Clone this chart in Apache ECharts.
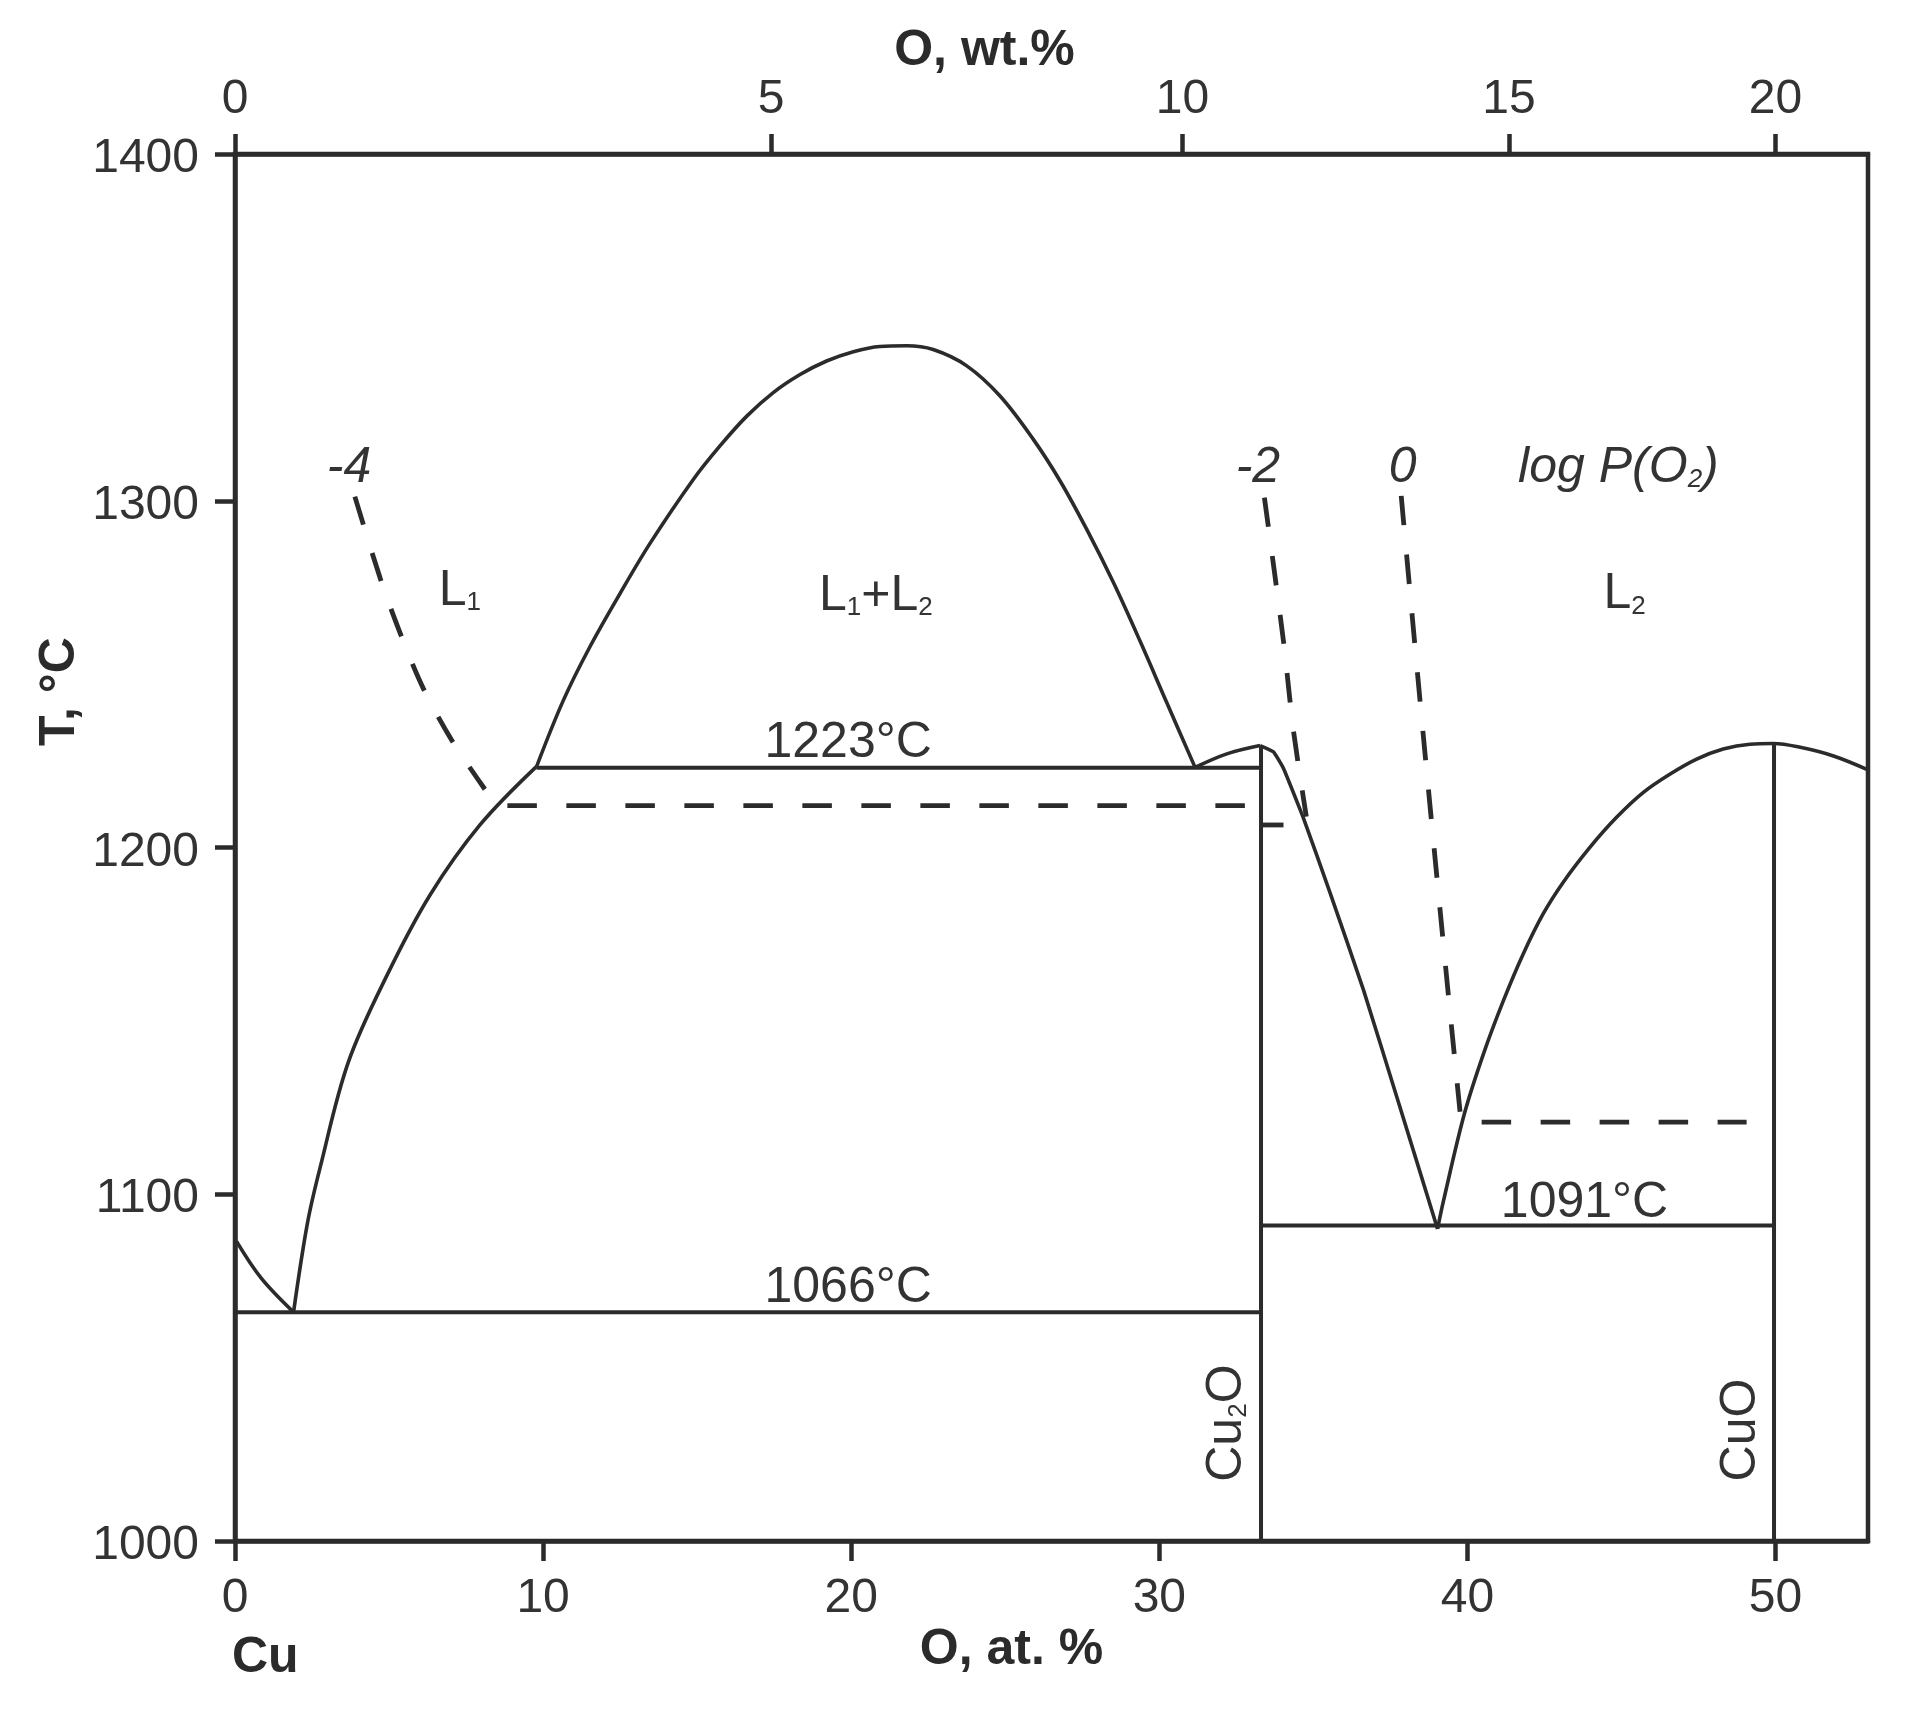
<!DOCTYPE html>
<html><head><meta charset="utf-8">
<style>html,body{margin:0;padding:0;background:#fff}#c{width:1917px;height:1715px}</style>
<script src="https://cdn.jsdelivr.net/npm/echarts@6/dist/echarts.min.js"></script>
</head><body><div id="c"></div>
<script>
const bottomTicks=[0,10,20,30,40,50];
const topTickPositions=[0,17.4,30.75,41.35,50];
const topTickLabels=['0','5','10','15','20'];
const eutecticLeft=[[0.05,1086.4],[0.85,1075.8],[1.9,1066]];
const liquidusL1=[[1.9,1066],[2.35,1091.6],[2.76,1107.6],[3.67,1137.9],[4.92,1162.9],[6.33,1186.3],[7.95,1206.5],[9.79,1223.4]];
const miscibilityDome=[[9.79,1223.4],[10.66,1242.5],[11.52,1257.9],[12.5,1273.3],[13.47,1287.7],[14.88,1306.2],[15.74,1315.8],[16.61,1324.4],[17.47,1331.2],[18.34,1336.4],[19.2,1340.3],[20.07,1343],[20.93,1344.5],[21.8,1344.7],[22.66,1343.6],[23.75,1338.9],[24.83,1330.2],[25.91,1317.7],[26.78,1305.7],[27.64,1291.8],[28.51,1276.4],[29.37,1259.6],[30.24,1241.8],[31.16,1223.1]];
const cu2oBump=[[31.16,1223.1],[32.19,1227],[33.27,1229.4]];
const cu2oFall=[[33.27,1229.4],[33.7,1227.6],[34.03,1222.8],[34.68,1208.4],[35.55,1186.7],[36.63,1158.8],[37.71,1128],[39.03,1090]];
const cuoRise=[[39.03,1090],[39.22,1098],[39.9,1123.2],[40.52,1140.5],[41.17,1155.9],[41.81,1169.3],[42.46,1180.9],[43.11,1190],[43.98,1200.1],[44.84,1208.7],[45.71,1215.9],[46.58,1221.2],[47.44,1225.5],[48.3,1228.4],[49.17,1229.8],[49.93,1230],[50.8,1228.9],[51.88,1226.4],[53,1222.4]];
const line1223=[[9.79,1223],[33.3,1223]];
const line1066=[[0,1066],[33.3,1066]];
const line1091=[[33.3,1091],[49.95,1091]];
const cu2oVertical=[[33.3,1000],[33.3,1229]];
const cuoVertical=[[49.95,1000],[49.95,1230]];
const dashMinus4=[[3.89,1301.2],[4.71,1277.7],[5.36,1261.8],[6.11,1245.9],[7.03,1231],[8.11,1216.8]];
const dashMinus2=[[33.41,1300.9],[34.03,1259.4],[34.35,1233.9],[34.77,1208.9]];
const dashZero=[[37.85,1301.4],[38.55,1233.9],[39.38,1157.5],[39.76,1123.8]];
const dash1212=[[8.84,1212.1],[32.78,1212.1]];
const dash1206=[[33.3,1206.5],[34.03,1206.5]];
const dash1121=[[40.46,1120.8],[49.06,1120.8]];
const labels=[
 {name:'-4',x:3.7,t:1309.5,text:'-4',italic:true},
 {name:'-2',x:33.2,t:1309.5,text:'-2',italic:true},
 {name:'0',x:37.9,t:1309.5,text:'0',italic:true},
 {name:'log',x:44.9,t:1309.5,text:'log P(O{isub|2})',italic:true},
 {name:'L1',x:7.3,t:1274,text:'L{sub|1}'},
 {name:'L1L2',x:20.8,t:1272.5,text:'L{sub|1}+L{sub|2}'},
 {name:'L2',x:45.1,t:1273,text:'L{sub|2}'},
 {name:'1223',x:19.9,t:1230,text:'1223°C'},
 {name:'1066',x:19.9,t:1073,text:'1066°C'},
 {name:'1091',x:43.8,t:1097.5,text:'1091°C'},
 {name:'Cu2O',x:32.2,t:1034,text:'Cu{sub|2}O',rotate:90},
 {name:'CuO',x:48.9,t:1032,text:'CuO',rotate:90}
];
const ink='#2b2b2b', font='"Liberation Sans",Arial,sans-serif';
const solid=(d,w=3.6,smooth=0.35)=>({type:'line',data:d,xAxisIndex:0,yAxisIndex:0,showSymbol:false,symbol:'none',smooth,silent:true,clip:false,lineStyle:{color:ink,width:w}});
const dashed=(d,smooth=0.3)=>({type:'line',data:d,xAxisIndex:0,yAxisIndex:0,showSymbol:false,symbol:'none',smooth,silent:true,clip:false,lineStyle:{color:ink,width:4.8,type:[29.5,29.5]}});
const chart=echarts.init(document.getElementById('c'),null,{renderer:'canvas'});
const axisLine={show:true,onZero:false,lineStyle:{color:ink,width:4.5}};
const tick=(vals)=>({show:true,length:20,lineStyle:{color:ink,width:4.5},...(vals?{customValues:vals}:{})});
chart.setOption({
 animation:false,backgroundColor:'#fff',
 textStyle:{fontFamily:font},
 grid:{left:235,top:154,width:1633,height:1387,show:true,borderColor:ink,borderWidth:4.5,backgroundColor:'transparent',containLabel:false},
 xAxis:[
  {type:'value',position:'bottom',min:0,max:53,splitLine:{show:false},axisLine,axisTick:tick(bottomTicks),
   axisLabel:{customValues:bottomTicks,color:'#333',fontSize:48,margin:34,fontFamily:font},
   name:'O, at. %',nameLocation:'middle',nameGap:84,nameMoveOverlap:false,nameTextStyle:{color:ink,fontSize:50,fontWeight:'bold',fontFamily:font,padding:[0,80,0,0]}},
  {type:'value',position:'top',min:0,max:53,splitLine:{show:false},axisLine,axisTick:tick(topTickPositions),
   axisLabel:{customValues:topTickPositions,color:'#333',fontSize:48,margin:30,fontFamily:font,
     formatter:v=>topTickLabels[topTickPositions.indexOf(v)]},
   name:'O, wt.%',nameLocation:'middle',nameGap:78,nameMoveOverlap:false,nameTextStyle:{color:ink,fontSize:50,fontWeight:'bold',fontFamily:font,padding:[0,134,0,0]}}
 ],
 yAxis:[{type:'value',min:1000,max:1400,interval:100,splitLine:{show:false},axisLine,axisTick:tick(),
   axisLabel:{color:'#333',margin:36,fontFamily:font,formatter:v=>'{a|'+v+'}',
     rich:{a:{fontSize:48,color:'#333',fontFamily:font,padding:[10,0,0,0]}}},
   name:'T, °C',nameLocation:'middle',nameGap:150,nameMoveOverlap:false,nameRotate:90,nameTextStyle:{color:ink,fontSize:50,fontWeight:'bold',fontFamily:font,padding:[0,0,0,312]}}],
 graphic:[{type:'text',left:232,top:1633,style:{text:'Cu',fontSize:50,fontWeight:'bold',fill:ink,fontFamily:font}}],
 series:[
  solid(eutecticLeft),solid(liquidusL1),solid(miscibilityDome),solid(cu2oBump),solid(cu2oFall,3.6,0.12),solid(cuoRise),
  solid(line1223,4,0),solid(line1066,4,0),solid(line1091,4,0),solid(cu2oVertical,4,0),solid(cuoVertical,4,0),
  dashed(dashMinus4),dashed(dashMinus2),dashed(dashZero),dashed(dash1212,0),dashed(dash1206,0),dashed(dash1121,0),
  {type:'scatter',silent:true,clip:false,symbolSize:0,xAxisIndex:0,yAxisIndex:0,itemStyle:{opacity:1},
   data:labels.map(l=>({name:l.name,value:[l.x,l.t],label:{show:true,position:'inside',align:'center',verticalAlign:'middle',
     formatter:l.text,rotate:l.rotate||0,fontSize:50,color:'#333',opacity:1,fontStyle:l.italic?'italic':'normal',fontFamily:font,
     rich:{sub:{fontSize:26,color:'#333',verticalAlign:'bottom',padding:[20,0,0,0],fontFamily:font},
           isub:{fontSize:26,color:'#333',fontStyle:'italic',verticalAlign:'bottom',padding:[20,0,0,0],fontFamily:font}}}}))}
 ]
});
</script></body></html>
